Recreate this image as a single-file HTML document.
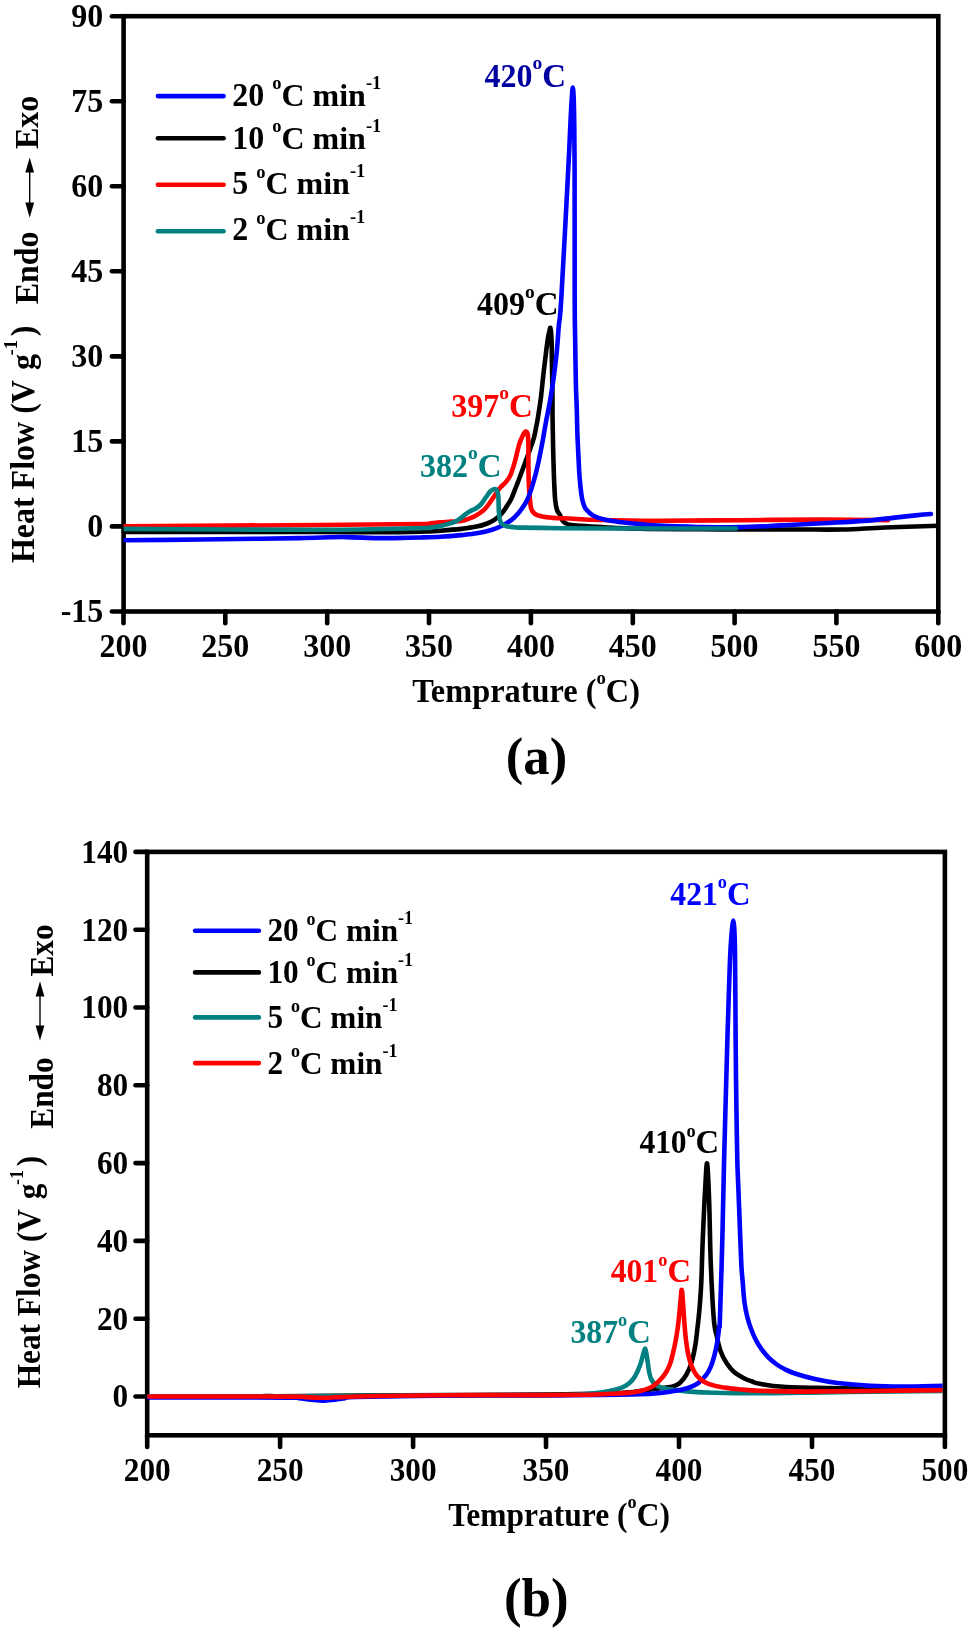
<!DOCTYPE html>
<html><head><meta charset="utf-8"><title>DSC curves</title>
<style>html,body{margin:0;padding:0;background:#fff}svg{display:block;will-change:transform}</style>
</head><body>
<svg width="969" height="1628" viewBox="0 0 969 1628" font-family='"Liberation Serif", serif' font-weight="bold">
<rect width="969" height="1628" fill="#fff"/>
<defs><clipPath id="ca"><rect x="123.6" y="16.2" width="814.6999999999999" height="595.3"/></clipPath><clipPath id="cb"><rect x="147.2" y="851.9" width="795.4000000000001" height="583.4"/></clipPath></defs>
<rect x="123.6" y="16.2" width="814.6999999999999" height="595.3" fill="none" stroke="#000" stroke-width="4.6"/>
<line x1="123.5" y1="611.5" x2="123.5" y2="623.2" stroke="#000" stroke-width="4.6" stroke-linecap="round"/>
<text transform="translate(123.5,656.5) scale(1.0,1.065)" font-size="32" fill="#000" text-anchor="middle" >200</text>
<line x1="225.3" y1="611.5" x2="225.3" y2="623.2" stroke="#000" stroke-width="4.6" stroke-linecap="round"/>
<text transform="translate(225.3,656.5) scale(1.0,1.065)" font-size="32" fill="#000" text-anchor="middle" >250</text>
<line x1="327.2" y1="611.5" x2="327.2" y2="623.2" stroke="#000" stroke-width="4.6" stroke-linecap="round"/>
<text transform="translate(327.2,656.5) scale(1.0,1.065)" font-size="32" fill="#000" text-anchor="middle" >300</text>
<line x1="429.0" y1="611.5" x2="429.0" y2="623.2" stroke="#000" stroke-width="4.6" stroke-linecap="round"/>
<text transform="translate(429.0,656.5) scale(1.0,1.065)" font-size="32" fill="#000" text-anchor="middle" >350</text>
<line x1="530.9" y1="611.5" x2="530.9" y2="623.2" stroke="#000" stroke-width="4.6" stroke-linecap="round"/>
<text transform="translate(530.9,656.5) scale(1.0,1.065)" font-size="32" fill="#000" text-anchor="middle" >400</text>
<line x1="632.8" y1="611.5" x2="632.8" y2="623.2" stroke="#000" stroke-width="4.6" stroke-linecap="round"/>
<text transform="translate(632.8,656.5) scale(1.0,1.065)" font-size="32" fill="#000" text-anchor="middle" >450</text>
<line x1="734.6" y1="611.5" x2="734.6" y2="623.2" stroke="#000" stroke-width="4.6" stroke-linecap="round"/>
<text transform="translate(734.6,656.5) scale(1.0,1.065)" font-size="32" fill="#000" text-anchor="middle" >500</text>
<line x1="836.4" y1="611.5" x2="836.4" y2="623.2" stroke="#000" stroke-width="4.6" stroke-linecap="round"/>
<text transform="translate(836.4,656.5) scale(1.0,1.065)" font-size="32" fill="#000" text-anchor="middle" >550</text>
<line x1="938.3" y1="611.5" x2="938.3" y2="623.2" stroke="#000" stroke-width="4.6" stroke-linecap="round"/>
<text transform="translate(938.3,656.5) scale(1.0,1.065)" font-size="32" fill="#000" text-anchor="middle" >600</text>
<line x1="123.6" y1="16.2" x2="111.89999999999999" y2="16.2" stroke="#000" stroke-width="4.6" stroke-linecap="round"/>
<text transform="translate(103.3,27.0) scale(1.0,1.065)" font-size="32" fill="#000" text-anchor="end" >90</text>
<line x1="123.6" y1="101.2" x2="111.89999999999999" y2="101.2" stroke="#000" stroke-width="4.6" stroke-linecap="round"/>
<text transform="translate(103.3,112.0) scale(1.0,1.065)" font-size="32" fill="#000" text-anchor="end" >75</text>
<line x1="123.6" y1="186.3" x2="111.89999999999999" y2="186.3" stroke="#000" stroke-width="4.6" stroke-linecap="round"/>
<text transform="translate(103.3,197.1) scale(1.0,1.065)" font-size="32" fill="#000" text-anchor="end" >60</text>
<line x1="123.6" y1="271.3" x2="111.89999999999999" y2="271.3" stroke="#000" stroke-width="4.6" stroke-linecap="round"/>
<text transform="translate(103.3,282.1) scale(1.0,1.065)" font-size="32" fill="#000" text-anchor="end" >45</text>
<line x1="123.6" y1="356.4" x2="111.89999999999999" y2="356.4" stroke="#000" stroke-width="4.6" stroke-linecap="round"/>
<text transform="translate(103.3,367.2) scale(1.0,1.065)" font-size="32" fill="#000" text-anchor="end" >30</text>
<line x1="123.6" y1="441.4" x2="111.89999999999999" y2="441.4" stroke="#000" stroke-width="4.6" stroke-linecap="round"/>
<text transform="translate(103.3,452.2) scale(1.0,1.065)" font-size="32" fill="#000" text-anchor="end" >15</text>
<line x1="123.6" y1="526.4" x2="111.89999999999999" y2="526.4" stroke="#000" stroke-width="4.6" stroke-linecap="round"/>
<text transform="translate(103.3,537.2) scale(1.0,1.065)" font-size="32" fill="#000" text-anchor="end" >0</text>
<line x1="123.6" y1="611.5" x2="111.89999999999999" y2="611.5" stroke="#000" stroke-width="4.6" stroke-linecap="round"/>
<text transform="translate(103.3,622.3) scale(1.0,1.065)" font-size="32" fill="#000" text-anchor="end" >-15</text>
<g clip-path="url(#ca)" fill="none" stroke-linejoin="round" stroke-linecap="butt" stroke-width="4.6">
<path d="M123.6,532.0 C156.3,532.0 278.1,531.9 320.0,531.9 C361.9,531.9 358.3,532.3 375.0,532.3 C391.7,532.3 409.1,532.1 420.0,531.8 C430.9,531.5 433.7,531.2 440.6,530.7 C447.5,530.2 455.3,529.6 461.3,528.9 C467.3,528.2 472.5,527.5 476.8,526.6 C481.1,525.7 484.2,524.6 487.1,523.5 C490.0,522.4 491.9,521.5 494.3,519.9 C496.7,518.3 499.4,516.0 501.5,513.7 C503.6,511.5 505.1,508.8 506.7,506.4 C508.3,503.9 509.8,501.9 511.2,499.0 C512.6,496.1 514.0,492.2 515.2,489.0 C516.5,485.8 517.4,483.4 518.7,480.0 C520.0,476.6 521.6,472.2 523.0,468.5 C524.4,464.8 525.7,461.1 527.0,457.6 C528.3,454.1 529.5,450.8 530.6,447.5 C531.8,444.2 533.0,441.1 533.9,437.9 C534.8,434.6 535.4,431.3 536.0,428.0 C536.6,424.7 537.0,423.2 537.8,418.3 C538.6,413.4 539.9,405.2 540.8,398.6 C541.6,392.1 542.2,385.6 542.9,379.0 C543.6,372.4 544.4,365.9 545.2,359.3 C546.0,352.8 547.0,344.3 547.7,339.7 C548.4,335.1 548.8,333.4 549.3,331.5 C549.8,329.6 550.1,326.6 550.5,328.2 C550.9,329.8 551.4,335.7 551.6,341.3 C551.8,346.9 551.8,355.0 551.9,361.9 C552.0,368.8 552.2,376.2 552.3,382.6 C552.4,389.0 552.5,393.7 552.5,400.0 C552.5,406.3 552.5,413.7 552.6,420.6 C552.7,427.5 552.9,434.4 553.0,441.3 C553.1,448.2 553.3,455.0 553.5,461.9 C553.7,468.8 553.9,476.2 554.2,482.6 C554.5,489.0 554.7,495.4 555.2,500.0 C555.7,504.6 556.2,507.5 557.0,510.0 C557.8,512.5 559.0,513.1 560.0,515.0 C561.0,516.9 561.6,519.7 563.0,521.3 C564.4,522.9 565.4,523.6 568.3,524.4 C571.2,525.1 575.1,525.3 580.6,525.8 C586.1,526.2 591.4,526.6 601.3,527.1 C611.2,527.6 623.5,528.4 640.0,528.8 C656.5,529.2 680.0,529.2 700.0,529.3 C720.0,529.4 743.0,529.5 760.0,529.5 C777.0,529.5 788.0,529.5 801.9,529.5 C815.8,529.5 829.4,529.8 843.2,529.5 C857.0,529.2 868.6,528.1 884.5,527.5 C900.4,526.9 929.3,526.1 938.3,525.8" stroke="#000"/>
<path d="M123.6,526.2 C156.3,526.0 270.6,525.4 320.0,525.0 C369.4,524.6 401.6,524.3 420.0,524.0 C438.4,523.7 426.9,523.7 430.3,523.4 C433.7,523.1 437.2,522.7 440.6,522.4 C444.1,522.1 447.6,521.9 451.0,521.6 C454.4,521.4 458.4,521.4 461.3,520.9 C464.2,520.4 466.1,519.7 468.5,518.8 C470.9,517.9 473.5,516.9 475.7,515.7 C477.9,514.5 480.0,513.2 481.9,511.6 C483.8,510.1 485.4,508.5 487.1,506.4 C488.8,504.3 490.6,501.4 492.2,499.2 C493.8,497.0 495.0,495.0 496.4,493.0 C497.8,491.0 498.9,489.1 500.5,487.3 C502.1,485.5 504.1,484.0 505.7,482.2 C507.2,480.4 508.7,478.5 509.8,476.5 C510.9,474.5 511.4,472.8 512.2,470.3 C513.1,467.8 513.7,465.8 514.9,461.5 C516.1,457.2 517.9,448.8 519.2,444.4 C520.6,440.0 521.9,437.2 523.0,435.1 C524.1,433.0 524.8,431.7 525.6,431.5 C526.4,431.3 527.2,432.0 527.7,434.1 C528.2,436.2 528.3,440.4 528.4,444.4 C528.5,448.3 528.4,453.2 528.4,457.8 C528.4,462.4 528.4,467.6 528.5,472.2 C528.6,476.8 528.7,481.5 528.9,485.7 C529.1,489.9 529.4,493.4 529.8,497.2 C530.2,501.0 530.3,505.5 531.1,508.3 C531.9,511.1 533.1,512.6 534.8,513.9 C536.4,515.2 537.9,515.6 541.0,516.3 C544.1,517.0 548.5,517.5 553.3,517.9 C558.1,518.3 562.2,518.1 570.0,518.5 C577.8,518.9 585.0,519.6 600.0,520.0 C615.0,520.4 636.7,520.7 660.0,520.7 C683.3,520.7 712.9,520.4 740.0,520.2 C767.1,520.0 797.9,519.6 822.6,519.6 C847.3,519.6 877.1,520.1 888.0,520.2" stroke="#ff0000" stroke-linecap="round"/>
<path d="M123.6,540.2 C136.3,540.1 177.3,539.8 200.0,539.5 C222.7,539.2 243.3,538.9 260.0,538.7 C276.7,538.5 288.3,538.3 300.0,538.1 C311.7,537.9 322.3,537.5 330.0,537.3 C337.7,537.1 340.7,537.0 346.0,537.1 C351.3,537.2 356.7,537.4 362.0,537.6 C367.3,537.8 372.5,538.0 378.0,538.1 C383.5,538.2 388.0,538.2 395.0,538.1 C402.0,538.0 412.4,537.7 420.0,537.5 C427.6,537.3 433.7,537.2 440.6,536.8 C447.5,536.4 455.3,535.7 461.3,535.1 C467.3,534.5 471.7,534.2 476.8,533.3 C481.9,532.4 487.9,531.0 492.2,529.7 C496.5,528.4 499.5,527.0 502.6,525.5 C505.7,524.0 508.6,522.0 510.8,520.4 C513.0,518.8 514.5,517.2 516.0,515.7 C517.5,514.2 518.1,513.7 520.0,511.1 C521.9,508.5 525.0,504.8 527.2,500.0 C529.4,495.2 531.4,489.0 533.3,482.6 C535.2,476.2 537.0,468.8 538.5,461.9 C540.0,455.0 541.3,448.2 542.6,441.3 C543.9,434.4 544.9,427.5 546.2,420.6 C547.5,413.7 549.0,407.2 550.2,400.0 C551.5,392.8 552.6,385.5 553.7,377.4 C554.8,369.3 555.9,360.2 556.8,351.6 C557.6,343.0 558.1,334.4 558.8,325.8 C559.5,317.2 559.6,326.0 561.2,300.0 C562.8,274.0 566.7,199.7 568.2,170.0 C569.8,140.3 569.9,133.6 570.5,121.6 C571.1,109.6 571.4,103.7 571.8,98.0 C572.2,92.3 572.5,87.5 572.8,87.5 C573.1,87.5 573.5,92.3 573.7,98.0 C573.9,103.7 574.1,109.6 574.2,121.6 C574.4,133.6 574.5,140.3 574.6,170.0 C574.7,199.7 574.6,271.4 574.7,300.0 C574.8,328.6 575.0,327.1 575.2,341.3 C575.4,355.5 575.6,373.6 575.9,385.0 C576.2,396.4 576.6,402.3 576.8,410.0 C577.0,417.7 577.1,424.1 577.3,431.0 C577.5,437.9 577.9,444.8 578.2,451.6 C578.5,458.4 578.9,466.4 579.2,472.0 C579.6,477.6 579.9,480.9 580.3,485.0 C580.7,489.1 581.2,493.3 581.7,496.5 C582.2,499.7 582.8,501.9 583.5,504.0 C584.2,506.1 584.2,507.0 585.8,508.9 C587.4,510.8 589.7,513.7 593.0,515.5 C596.3,517.3 600.6,518.7 605.4,519.8 C610.2,520.9 615.7,521.5 621.9,522.3 C628.1,523.1 635.7,523.8 642.6,524.4 C649.5,525.0 652.9,525.3 663.2,525.8 C673.5,526.2 691.7,526.9 704.5,527.1 C717.3,527.3 727.2,527.4 740.0,527.1 C752.8,526.8 767.5,526.0 781.3,525.4 C795.1,524.8 808.9,524.0 822.6,523.3 C836.4,522.5 851.8,521.8 863.8,520.9 C875.8,520.0 886.2,518.5 894.8,517.6 C903.4,516.7 909.4,516.0 915.4,515.4 C921.4,514.8 928.3,514.2 930.9,514.0" stroke="#0000ff" stroke-linecap="round"/>
<path d="M123.6,528.9 C156.3,529.0 270.6,529.9 320.0,529.8 C369.4,529.7 401.6,528.5 420.0,528.1 C438.4,527.7 426.9,528.0 430.3,527.6 C433.7,527.2 437.2,526.7 440.6,526.0 C444.1,525.3 448.1,524.2 451.0,523.2 C453.9,522.2 456.0,521.2 458.2,519.9 C460.4,518.6 462.5,516.6 464.4,515.2 C466.3,513.8 467.6,512.7 469.5,511.6 C471.4,510.5 473.8,509.7 475.7,508.5 C477.6,507.3 479.2,506.3 480.9,504.4 C482.6,502.5 484.4,499.3 486.0,497.2 C487.6,495.1 488.9,492.8 490.2,491.5 C491.5,490.2 492.7,489.4 493.8,489.2 C494.9,489.0 496.2,489.4 496.9,490.4 C497.6,491.4 497.9,493.0 498.2,495.1 C498.5,497.2 498.5,500.6 498.6,503.3 C498.7,506.1 498.7,509.0 498.9,511.6 C499.1,514.2 499.3,516.8 499.7,518.8 C500.1,520.8 500.5,522.3 501.5,523.5 C502.5,524.7 503.8,525.4 505.7,526.0 C507.6,526.6 510.5,526.8 512.9,527.1 C515.3,527.4 512.1,527.4 520.0,527.6 C527.9,527.8 538.3,528.1 560.0,528.2 C581.7,528.4 620.7,528.5 650.0,528.5 C679.3,528.5 721.6,528.5 735.9,528.5" stroke="#008080" stroke-linecap="round"/>
</g>
<line x1="157.9" y1="96.1" x2="223.6" y2="96.1" stroke="#0000ff" stroke-width="4.6" stroke-linecap="round"/>
<text transform="translate(232.2,105.8) scale(1.0,1.065)" font-size="32" fill="#000">20</text>
<text transform="translate(272.20,105.8) scale(1.0,1.0)" font-size="32" fill="#000"><tspan font-size="18.5" dy="-16.6">o</tspan><tspan dy="16.6">C min</tspan><tspan font-size="18.5" dy="-17">-1</tspan></text>
<line x1="157.9" y1="138.3" x2="223.6" y2="138.3" stroke="#000" stroke-width="4.6" stroke-linecap="round"/>
<text transform="translate(232.2,148.5) scale(1.0,1.065)" font-size="32" fill="#000">10</text>
<text transform="translate(272.20,148.5) scale(1.0,1.0)" font-size="32" fill="#000"><tspan font-size="18.5" dy="-16.6">o</tspan><tspan dy="16.6">C min</tspan><tspan font-size="18.5" dy="-17">-1</tspan></text>
<line x1="157.9" y1="184.8" x2="223.6" y2="184.8" stroke="#ff0000" stroke-width="4.6" stroke-linecap="round"/>
<text transform="translate(232.2,194.3) scale(1.0,1.065)" font-size="32" fill="#000">5</text>
<text transform="translate(256.20,194.3) scale(1.0,1.0)" font-size="32" fill="#000"><tspan font-size="18.5" dy="-16.6">o</tspan><tspan dy="16.6">C min</tspan><tspan font-size="18.5" dy="-17">-1</tspan></text>
<line x1="157.9" y1="231.2" x2="223.6" y2="231.2" stroke="#008080" stroke-width="4.6" stroke-linecap="round"/>
<text transform="translate(232.2,240.4) scale(1.0,1.065)" font-size="32" fill="#000">2</text>
<text transform="translate(256.20,240.4) scale(1.0,1.0)" font-size="32" fill="#000"><tspan font-size="18.5" dy="-16.6">o</tspan><tspan dy="16.6">C min</tspan><tspan font-size="18.5" dy="-17">-1</tspan></text>
<text transform="translate(484.5,87.4) scale(1.0,1.04)" font-size="32" fill="#0000a0" letter-spacing="0">420</text>
<text transform="translate(532.50,87.4) scale(1.0,1.0)" font-size="32" fill="#0000a0" letter-spacing="0"><tspan font-size="19.5" dy="-18.5">o</tspan><tspan dy="18.5" font-size="33">C</tspan></text>
<text transform="translate(477.1,315.3) scale(1.0,1.04)" font-size="32" fill="#000" letter-spacing="0">409</text>
<text transform="translate(525.10,315.3) scale(1.0,1.0)" font-size="32" fill="#000" letter-spacing="0"><tspan font-size="19.5" dy="-17.0">o</tspan><tspan dy="17.0" font-size="33">C</tspan></text>
<text transform="translate(451.2,416.7) scale(1.0,1.04)" font-size="32" fill="#ff0000" letter-spacing="0">397</text>
<text transform="translate(499.20,416.7) scale(1.0,1.0)" font-size="32" fill="#ff0000" letter-spacing="0"><tspan font-size="19.5" dy="-17.8">o</tspan><tspan dy="17.8" font-size="33">C</tspan></text>
<text transform="translate(419.9,477.3) scale(1.0,1.04)" font-size="32" fill="#008080" letter-spacing="0">382</text>
<text transform="translate(467.90,477.3) scale(1.0,1.0)" font-size="32" fill="#008080" letter-spacing="0"><tspan font-size="19.5" dy="-18.8">o</tspan><tspan dy="18.8" font-size="33">C</tspan></text>
<text transform="translate(412.2,701.7) scale(1.012,1.03)" font-size="32" fill="#000">Temprature (<tspan font-size="18.5" dy="-17.4">o</tspan><tspan dy="17.4">C)</tspan></text>
<text transform="translate(536.5,773.6) scale(1.0,1.0)" font-size="52.7" fill="#000" text-anchor="middle" >(a)</text>
<text transform="translate(34.1,563.1) rotate(-90) scale(1.0,1.03)" font-size="32" fill="#000">Heat Flow (V<tspan dx="2.2"> g</tspan><tspan font-size="18.5" dy="-17" dx="-1.5">-1</tspan><tspan dy="17" dx="3.8">)</tspan></text>
<text transform="translate(37.9,304.3) rotate(-90) scale(1.0,1.03)" font-size="32" fill="#000">Endo</text>
<text transform="translate(37.9,149.1) rotate(-90) scale(1.0,1.03)" font-size="32" fill="#000">Exo</text>
<line x1="29.7" y1="165.4" x2="29.7" y2="209.7" stroke="#000" stroke-width="1.4"/>
<path d="M29.7,157.4 L34.1,172.6 L25.299999999999997,172.6 Z" fill="#000"/>
<path d="M29.7,217.7 L34.1,202.5 L25.299999999999997,202.5 Z" fill="#000"/>
<rect x="147.2" y="851.9" width="797.7" height="583.4" fill="none" stroke="#000" stroke-width="4.6"/>
<line x1="147.2" y1="1435.3" x2="147.2" y2="1447.0" stroke="#000" stroke-width="4.6" stroke-linecap="round"/>
<text transform="translate(147.2,1480.5) scale(0.977,1.065)" font-size="32" fill="#000" text-anchor="middle" >200</text>
<line x1="280.1" y1="1435.3" x2="280.1" y2="1447.0" stroke="#000" stroke-width="4.6" stroke-linecap="round"/>
<text transform="translate(280.1,1480.5) scale(0.977,1.065)" font-size="32" fill="#000" text-anchor="middle" >250</text>
<line x1="413.1" y1="1435.3" x2="413.1" y2="1447.0" stroke="#000" stroke-width="4.6" stroke-linecap="round"/>
<text transform="translate(413.1,1480.5) scale(0.977,1.065)" font-size="32" fill="#000" text-anchor="middle" >300</text>
<line x1="546.0" y1="1435.3" x2="546.0" y2="1447.0" stroke="#000" stroke-width="4.6" stroke-linecap="round"/>
<text transform="translate(546.0,1480.5) scale(0.977,1.065)" font-size="32" fill="#000" text-anchor="middle" >350</text>
<line x1="679.0" y1="1435.3" x2="679.0" y2="1447.0" stroke="#000" stroke-width="4.6" stroke-linecap="round"/>
<text transform="translate(679.0,1480.5) scale(0.977,1.065)" font-size="32" fill="#000" text-anchor="middle" >400</text>
<line x1="812.0" y1="1435.3" x2="812.0" y2="1447.0" stroke="#000" stroke-width="4.6" stroke-linecap="round"/>
<text transform="translate(812.0,1480.5) scale(0.977,1.065)" font-size="32" fill="#000" text-anchor="middle" >450</text>
<line x1="944.9" y1="1435.3" x2="944.9" y2="1447.0" stroke="#000" stroke-width="4.6" stroke-linecap="round"/>
<text transform="translate(944.9,1480.5) scale(0.977,1.065)" font-size="32" fill="#000" text-anchor="middle" >500</text>
<line x1="147.2" y1="851.9" x2="135.5" y2="851.9" stroke="#000" stroke-width="4.6" stroke-linecap="round"/>
<text transform="translate(128.2,862.7) scale(0.977,1.065)" font-size="32" fill="#000" text-anchor="end" >140</text>
<line x1="147.2" y1="929.7" x2="135.5" y2="929.7" stroke="#000" stroke-width="4.6" stroke-linecap="round"/>
<text transform="translate(128.2,940.5) scale(0.977,1.065)" font-size="32" fill="#000" text-anchor="end" >120</text>
<line x1="147.2" y1="1007.5" x2="135.5" y2="1007.5" stroke="#000" stroke-width="4.6" stroke-linecap="round"/>
<text transform="translate(128.2,1018.3) scale(0.977,1.065)" font-size="32" fill="#000" text-anchor="end" >100</text>
<line x1="147.2" y1="1085.3" x2="135.5" y2="1085.3" stroke="#000" stroke-width="4.6" stroke-linecap="round"/>
<text transform="translate(128.2,1096.1) scale(0.977,1.065)" font-size="32" fill="#000" text-anchor="end" >80</text>
<line x1="147.2" y1="1163.1" x2="135.5" y2="1163.1" stroke="#000" stroke-width="4.6" stroke-linecap="round"/>
<text transform="translate(128.2,1173.9) scale(0.977,1.065)" font-size="32" fill="#000" text-anchor="end" >60</text>
<line x1="147.2" y1="1240.9" x2="135.5" y2="1240.9" stroke="#000" stroke-width="4.6" stroke-linecap="round"/>
<text transform="translate(128.2,1251.7) scale(0.977,1.065)" font-size="32" fill="#000" text-anchor="end" >40</text>
<line x1="147.2" y1="1318.7" x2="135.5" y2="1318.7" stroke="#000" stroke-width="4.6" stroke-linecap="round"/>
<text transform="translate(128.2,1329.5) scale(0.977,1.065)" font-size="32" fill="#000" text-anchor="end" >20</text>
<line x1="147.2" y1="1396.5" x2="135.5" y2="1396.5" stroke="#000" stroke-width="4.6" stroke-linecap="round"/>
<text transform="translate(128.2,1407.3) scale(0.977,1.065)" font-size="32" fill="#000" text-anchor="end" >0</text>
<g clip-path="url(#cb)" fill="none" stroke-linejoin="round" stroke-linecap="butt" stroke-width="4.6">
<path d="M147.2,1396.5 C166.3,1396.5 241.9,1396.4 262.0,1396.3 C282.1,1396.2 265.8,1395.9 268.0,1395.9 C270.2,1395.9 253.0,1396.4 275.0,1396.3 C297.0,1396.2 355.8,1395.6 400.0,1395.3 C444.2,1395.0 503.3,1394.9 540.0,1394.5 C576.7,1394.1 603.3,1393.6 620.0,1393.0 C636.7,1392.4 634.2,1391.7 640.0,1391.0 C645.8,1390.3 650.9,1389.5 655.0,1389.0 C659.1,1388.5 661.8,1388.1 664.8,1387.7 C667.8,1387.3 670.4,1387.2 672.9,1386.5 C675.4,1385.8 677.3,1385.1 679.5,1383.2 C681.7,1381.3 684.2,1378.4 686.2,1375.0 C688.2,1371.6 690.0,1367.4 691.5,1362.6 C693.0,1357.8 694.2,1351.5 695.2,1346.0 C696.2,1340.5 696.7,1334.7 697.3,1329.5 C697.9,1324.3 698.4,1319.9 698.9,1315.0 C699.4,1310.1 699.8,1305.8 700.2,1300.0 C700.6,1294.2 701.0,1289.4 701.4,1280.0 C701.8,1270.6 702.0,1258.4 702.6,1243.8 C703.2,1229.2 704.2,1205.6 705.0,1192.2 C705.8,1178.8 706.4,1161.8 707.1,1163.5 C707.8,1165.2 708.6,1185.8 709.2,1202.6 C709.8,1219.4 710.0,1244.9 710.8,1264.5 C711.6,1284.1 712.9,1308.1 713.9,1320.0 C714.9,1331.9 715.7,1330.9 716.8,1336.1 C717.9,1341.3 718.9,1346.5 720.5,1351.0 C722.1,1355.5 724.4,1359.8 726.7,1363.3 C729.0,1366.8 731.2,1369.5 734.1,1372.0 C737.0,1374.5 741.1,1376.7 744.0,1378.2 C746.9,1379.8 748.8,1380.4 751.5,1381.3 C754.2,1382.2 754.7,1382.9 760.0,1383.8 C765.3,1384.7 772.2,1386.1 783.3,1386.8 C794.4,1387.5 812.2,1387.7 826.7,1388.0 C841.2,1388.3 850.3,1388.4 870.0,1388.5 C889.7,1388.6 932.4,1388.5 944.9,1388.5" stroke="#000"/>
<path d="M147.2,1396.5 C172.7,1396.5 251.2,1396.6 300.0,1396.4 C348.8,1396.2 396.7,1395.6 440.0,1395.4 C483.3,1395.2 535.8,1395.2 560.0,1395.0 C584.2,1394.8 578.7,1394.4 585.0,1394.0 C591.3,1393.6 594.1,1393.3 598.0,1392.8 C601.9,1392.3 604.4,1392.0 608.1,1391.2 C611.9,1390.4 617.0,1389.4 620.5,1388.1 C624.0,1386.8 626.7,1385.3 629.2,1383.2 C631.7,1381.1 633.5,1378.8 635.4,1375.7 C637.2,1372.6 639.0,1368.3 640.3,1364.6 C641.6,1360.9 642.6,1356.1 643.4,1353.4 C644.2,1350.8 644.8,1348.4 645.3,1348.7 C645.8,1349.0 646.2,1352.7 646.6,1355.0 C647.0,1357.3 647.4,1360.0 647.8,1362.6 C648.2,1365.2 648.3,1368.0 648.9,1370.8 C649.5,1373.5 650.0,1376.8 651.1,1379.1 C652.2,1381.4 654.0,1383.6 655.6,1384.9 C657.2,1386.2 657.9,1386.4 660.5,1387.2 C663.1,1388.0 666.2,1388.8 671.0,1389.5 C675.8,1390.2 682.3,1391.0 689.5,1391.6 C696.7,1392.1 702.5,1392.5 714.3,1392.8 C726.0,1393.1 745.7,1393.3 760.0,1393.3 C774.3,1393.3 785.0,1393.0 800.0,1392.8 C815.0,1392.6 825.9,1392.3 850.0,1392.0 C874.1,1391.7 929.1,1391.2 944.9,1391.0" stroke="#008080"/>
<path d="M147.2,1397.5 C170.7,1397.5 262.7,1397.5 288.0,1397.6 C313.3,1397.7 295.2,1397.9 299.0,1398.2 C302.8,1398.5 306.8,1399.2 311.0,1399.6 C315.2,1400.0 320.0,1400.6 324.0,1400.6 C328.0,1400.6 331.5,1400.2 335.0,1399.8 C338.5,1399.4 341.7,1398.7 345.0,1398.2 C348.3,1397.7 339.2,1397.4 355.0,1397.0 C370.8,1396.6 409.2,1396.0 440.0,1395.7 C470.8,1395.5 513.3,1395.6 540.0,1395.5 C566.7,1395.4 583.3,1395.2 600.0,1395.0 C616.7,1394.8 630.2,1394.6 640.0,1394.3 C649.8,1394.0 652.4,1393.7 658.6,1393.1 C664.8,1392.5 672.1,1391.5 677.2,1390.6 C682.4,1389.7 686.0,1388.7 689.5,1387.5 C693.0,1386.3 695.5,1385.2 698.2,1383.2 C700.9,1381.2 703.5,1378.4 705.6,1375.7 C707.7,1373.0 709.2,1370.4 710.6,1367.1 C712.0,1363.8 713.2,1360.2 714.3,1355.9 C715.4,1351.6 716.6,1346.0 717.4,1341.1 C718.2,1336.1 718.9,1329.7 719.3,1326.2 C719.7,1322.7 719.4,1333.7 719.9,1320.0 C720.4,1306.3 721.5,1270.5 722.2,1243.8 C722.9,1217.1 723.3,1193.0 724.1,1160.0 C724.9,1127.0 726.6,1069.3 727.2,1046.0 C727.9,1022.7 727.5,1034.0 728.0,1020.0 C728.5,1006.0 729.3,976.2 729.9,962.0 C730.5,947.8 730.9,941.9 731.5,935.0 C732.1,928.1 732.8,920.6 733.3,920.6 C733.8,920.6 734.3,928.1 734.6,935.0 C734.9,941.9 735.0,947.8 735.1,962.0 C735.2,976.2 735.4,1000.8 735.5,1020.0 C735.6,1039.2 735.8,1060.3 736.0,1077.0 C736.2,1093.7 736.4,1106.2 736.6,1120.0 C736.8,1133.8 737.0,1149.7 737.3,1160.0 C737.5,1170.3 737.7,1171.4 738.1,1181.9 C738.5,1192.4 739.2,1209.3 739.7,1223.0 C740.2,1236.7 740.8,1254.0 741.3,1264.0 C741.8,1274.0 742.3,1276.7 742.8,1283.0 C743.3,1289.3 743.6,1296.0 744.4,1301.7 C745.1,1307.4 746.2,1312.6 747.3,1317.0 C748.4,1321.4 749.4,1324.5 750.8,1328.3 C752.2,1332.0 753.8,1336.0 755.6,1339.5 C757.4,1343.0 759.5,1346.4 761.7,1349.4 C763.9,1352.4 766.1,1355.1 768.6,1357.6 C771.1,1360.1 774.1,1362.5 776.8,1364.5 C779.5,1366.5 782.1,1367.8 785.0,1369.3 C787.9,1370.8 789.1,1371.5 794.2,1373.2 C799.4,1374.9 808.7,1377.7 815.9,1379.3 C823.1,1380.9 828.5,1381.9 837.5,1383.0 C846.5,1384.1 859.2,1385.2 870.0,1385.8 C880.8,1386.4 890.0,1386.6 902.5,1386.6 C915.0,1386.6 937.8,1385.9 944.9,1385.8" stroke="#0000ff"/>
<path d="M147.2,1396.5 C171.0,1396.5 263.7,1396.5 290.0,1396.6 C316.3,1396.7 300.0,1396.9 305.0,1397.1 C310.0,1397.3 315.0,1397.8 320.0,1397.8 C325.0,1397.8 330.0,1397.5 335.0,1397.3 C340.0,1397.1 342.5,1396.9 350.0,1396.7 C357.5,1396.5 365.0,1396.2 380.0,1396.0 C395.0,1395.8 413.3,1395.4 440.0,1395.2 C466.7,1395.0 515.1,1395.2 540.0,1395.1 C564.9,1395.0 577.1,1394.9 589.5,1394.7 C601.9,1394.5 607.5,1394.1 614.3,1393.7 C621.0,1393.3 625.9,1393.0 630.0,1392.6 C634.1,1392.2 635.7,1392.1 639.1,1391.3 C642.5,1390.5 647.7,1388.8 650.6,1387.5 C653.5,1386.2 654.7,1384.8 656.4,1383.4 C658.1,1382.0 659.3,1380.7 660.6,1379.3 C661.9,1377.9 663.2,1376.4 664.3,1375.0 C665.3,1373.6 665.9,1372.9 666.9,1370.8 C667.9,1368.7 669.2,1366.7 670.5,1362.6 C671.8,1358.5 673.4,1351.5 674.6,1346.0 C675.8,1340.5 676.7,1335.0 677.5,1329.5 C678.3,1324.0 678.9,1318.2 679.4,1313.0 C679.9,1307.8 680.4,1301.7 680.8,1298.0 C681.2,1294.3 681.4,1287.1 682.0,1290.8 C682.6,1294.5 683.6,1312.0 684.2,1320.0 C684.8,1328.0 685.1,1332.8 685.8,1338.6 C686.5,1344.4 687.3,1350.0 688.3,1354.7 C689.3,1359.5 690.5,1363.6 692.0,1367.1 C693.5,1370.6 694.9,1373.2 697.0,1375.7 C699.1,1378.2 701.5,1380.2 704.4,1381.9 C707.3,1383.6 710.6,1384.6 714.3,1385.6 C718.0,1386.6 722.6,1387.3 726.7,1387.9 C730.8,1388.5 733.6,1388.8 739.1,1389.3 C744.6,1389.8 749.0,1390.4 760.0,1390.8 C771.0,1391.2 786.7,1391.6 805.0,1391.6 C823.3,1391.6 846.7,1391.2 870.0,1391.0 C893.3,1390.8 932.4,1390.2 944.9,1390.1" stroke="#ff0000"/>
</g>
<line x1="195.1" y1="930.8" x2="258.9" y2="930.8" stroke="#0000ff" stroke-width="4.6" stroke-linecap="round"/>
<text transform="translate(267.5,941.4) scale(0.977,1.065)" font-size="32" fill="#000">20</text>
<text transform="translate(306.58,941.4) scale(0.977,1.0)" font-size="32" fill="#000"><tspan font-size="18.5" dy="-16.6">o</tspan><tspan dy="16.6">C min</tspan><tspan font-size="18.5" dy="-17">-1</tspan></text>
<line x1="195.1" y1="972.4" x2="258.9" y2="972.4" stroke="#000" stroke-width="4.6" stroke-linecap="round"/>
<text transform="translate(267.5,983.0) scale(0.977,1.065)" font-size="32" fill="#000">10</text>
<text transform="translate(306.58,983.0) scale(0.977,1.0)" font-size="32" fill="#000"><tspan font-size="18.5" dy="-16.6">o</tspan><tspan dy="16.6">C min</tspan><tspan font-size="18.5" dy="-17">-1</tspan></text>
<line x1="195.1" y1="1017.4" x2="258.9" y2="1017.4" stroke="#008080" stroke-width="4.6" stroke-linecap="round"/>
<text transform="translate(267.5,1028.4) scale(0.977,1.065)" font-size="32" fill="#000">5</text>
<text transform="translate(290.95,1028.4) scale(0.977,1.0)" font-size="32" fill="#000"><tspan font-size="18.5" dy="-16.6">o</tspan><tspan dy="16.6">C min</tspan><tspan font-size="18.5" dy="-17">-1</tspan></text>
<line x1="195.1" y1="1063.1" x2="258.9" y2="1063.1" stroke="#ff0000" stroke-width="4.6" stroke-linecap="round"/>
<text transform="translate(267.5,1073.7) scale(0.977,1.065)" font-size="32" fill="#000">2</text>
<text transform="translate(290.95,1073.7) scale(0.977,1.0)" font-size="32" fill="#000"><tspan font-size="18.5" dy="-16.6">o</tspan><tspan dy="16.6">C min</tspan><tspan font-size="18.5" dy="-17">-1</tspan></text>
<text transform="translate(670.3,904.9) scale(0.99,1.04)" font-size="32" fill="#0000ff" letter-spacing="0">421</text>
<text transform="translate(717.82,904.9) scale(0.99,1.0)" font-size="32" fill="#0000ff" letter-spacing="0"><tspan font-size="18.5" dy="-16.5">o</tspan><tspan dy="16.5" font-size="33">C</tspan></text>
<text transform="translate(639.5,1153.0) scale(0.99,1.04)" font-size="32" fill="#000" letter-spacing="-0.15">410</text>
<text transform="translate(686.57,1153.0) scale(0.99,1.0)" font-size="32" fill="#000" letter-spacing="-0.15"><tspan font-size="18.5" dy="-16.5">o</tspan><tspan dy="16.5" font-size="33">C</tspan></text>
<text transform="translate(610.7,1282.4) scale(0.99,1.04)" font-size="32" fill="#ff0000" letter-spacing="0">401</text>
<text transform="translate(658.22,1282.4) scale(0.99,1.0)" font-size="32" fill="#ff0000" letter-spacing="0"><tspan font-size="18.5" dy="-16.5">o</tspan><tspan dy="16.5" font-size="33">C</tspan></text>
<text transform="translate(570.5,1342.9) scale(0.99,1.04)" font-size="32" fill="#008080" letter-spacing="0">387</text>
<text transform="translate(618.02,1342.9) scale(0.99,1.0)" font-size="32" fill="#008080" letter-spacing="0"><tspan font-size="18.5" dy="-16.5">o</tspan><tspan dy="16.5" font-size="33">C</tspan></text>
<text transform="translate(448.2,1526.3) scale(0.985,1.03)" font-size="32" fill="#000">Temprature (<tspan font-size="18.5" dy="-17.6">o</tspan><tspan dy="17.6">C)</tspan></text>
<text transform="translate(536.3,1616) scale(0.977,1.0)" font-size="54.2" fill="#000" text-anchor="middle" >(b)</text>
<text transform="translate(40.1,1388.3) rotate(-90) scale(0.979,1.03)" font-size="32" fill="#000">Heat Flow (V<tspan dx="2.2"> g</tspan><tspan font-size="18.5" dy="-17" dx="-1.5">-1</tspan><tspan dy="17" dx="3.8">)</tspan></text>
<text transform="translate(53.0,1128.7) rotate(-90) scale(0.979,1.03)" font-size="32" fill="#000">Endo</text>
<text transform="translate(53.0,976.6) rotate(-90) scale(0.979,1.03)" font-size="32" fill="#000">Exo</text>
<line x1="40.0" y1="989.3" x2="40.0" y2="1032.6" stroke="#000" stroke-width="1.4"/>
<path d="M40.0,981.3 L44.4,996.5 L35.6,996.5 Z" fill="#000"/>
<path d="M40.0,1040.6 L44.4,1025.3999999999999 L35.6,1025.3999999999999 Z" fill="#000"/>
</svg>
</body></html>
